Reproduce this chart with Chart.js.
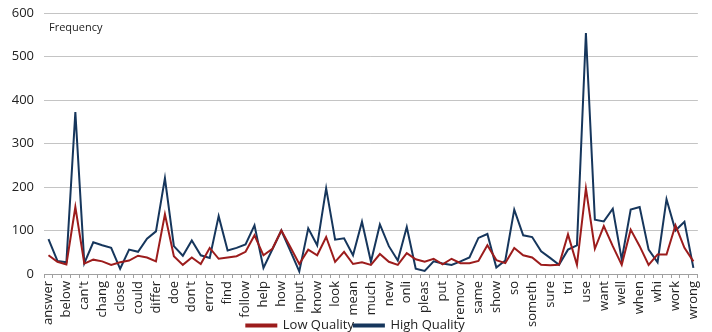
<!DOCTYPE html>
<html>
<head>
<meta charset="utf-8">
<script src="https://cdn.jsdelivr.net/npm/chart.js@4.4.1/dist/chart.umd.min.js"></script>
<style>
  html, body { margin: 0; padding: 0; background: #fff; }
  #wrap { width: 712px; height: 332px; position: relative; }
</style>
</head>
<body>
<div id="wrap"><canvas id="freqChart"></canvas></div>
<script>
// every other category carries a label, as on the original axis
const words = ['answer', 'below', "can't", 'chang', 'close', 'could', 'differ', 'doe', "don't", 'error',
  'find', 'follow', 'help', 'how', 'input', 'know', 'look', 'mean', 'much', 'new', 'onli', 'pleas',
  'put', 'remov', 'same', 'show', 'so', 'someth', 'sure', 'tri', 'use', 'want', 'well', 'when', 'whi',
  'work', 'wrong'];
const categories = [];
words.forEach(function(w, i) {
    categories.push(w);
    if (i < words.length - 1) categories.push('');
});

const lowQuality = [43, 28, 22, 154, 24, 33, 29, 21, 27, 31, 42, 38, 29, 137, 41, 21, 38, 23, 60, 35,
  38, 41, 51, 89, 43, 58, 100, 62, 23, 56, 43, 85, 28, 51, 23, 27, 21, 46, 28, 21,
  48, 34, 28, 35, 22, 35, 25, 25, 30, 66, 32, 25, 60, 43, 38, 21, 20, 21, 91, 21,
  197, 58, 110, 64, 21, 102, 64, 21, 45, 45, 112, 60, 29];
const highQuality = [80, 30, 27, 372, 25, 73, 66, 60, 12, 56, 51, 81, 98, 220, 64, 42, 77, 43, 37, 133,
  54, 60, 68, 112, 14, 57, 100, 53, 6, 105, 66, 197, 79, 82, 43, 120, 28, 114, 64, 31,
  108, 12, 7, 29, 24, 21, 29, 38, 83, 92, 15, 31, 148, 89, 85, 52, 37, 21, 56, 66,
  554, 125, 121, 150, 33, 148, 154, 56, 27, 172, 100, 120, 14];
const yTicks = [0, 100, 200, 300, 400, 500, 600];

const FONT = '"Open Sans", "Liberation Sans", sans-serif';

const frequencyLabel = {
    id: 'frequencyLabel',
    afterDraw(chart) {
        const ctx = chart.ctx;
        ctx.save();
        ctx.font = '11px ' + FONT;
        ctx.fillStyle = '#222';
        ctx.textBaseline = 'middle';
        ctx.fillText('Frequency', chart.chartArea.left + 5, 28);
        ctx.restore();
    }
};

new Chart(document.getElementById('freqChart'), {
    type: 'line',
    data: {
        labels: categories,
        datasets: [{
            label: 'Low Quality',
            data: lowQuality,
            borderColor: '#9c1c1c',
            backgroundColor: '#9c1c1c',
            borderWidth: 2,
            pointRadius: 0,
            tension: 0
        }, {
            label: 'High Quality',
            data: highQuality,
            borderColor: '#16365c',
            backgroundColor: '#16365c',
            borderWidth: 2,
            pointRadius: 0,
            tension: 0
        }]
    },
    options: {
        responsive: true,
        maintainAspectRatio: false,
        animation: false,
        // legend sits partly in the margin so it lines up with the long tick labels
        layout: { padding: { top: 13, right: 1, left: 0, bottom: -10 } },
        plugins: {
            tooltip: { enabled: false },
            legend: {
                position: 'bottom',
                labels: {
                    boxWidth: 30,
                    boxHeight: 2,
                    padding: 0,
                    color: '#222',
                    font: { family: FONT, size: 13 }
                }
            }
        },
        scales: {
            x: {
                offset: true,
                grid: { offset: true, drawOnChartArea: false, tickLength: 4, color: '#a0a0a0' },
                border: { color: '#a0a0a0' },
                ticks: {
                    autoSkip: false,
                    minRotation: 90,
                    maxRotation: 90,
                    padding: 3,
                    color: '#222',
                    font: { family: FONT, size: 13 }
                },
                afterFit(scale) {
                    scale.height = 45;
                    // long labels run down past the axis box, next to the legend
                    scale._computeLabelArea = () => undefined;
                }
            },
            y: {
                min: 0,
                max: 600,
                afterBuildTicks(scale) { scale.ticks = yTicks.map(v => ({ value: v })); },
                grid: { drawTicks: false, color: '#c4c4c4' },
                border: { display: false },
                ticks: {
                    padding: 10,
                    color: '#222',
                    font: { family: FONT, size: 13 }
                },
                afterFit(scale) {
                    scale.width = 44;
                    scale.paddingTop = 0;
                }
            }
        }
    },
    plugins: [frequencyLabel]
});
</script>
</body>
</html>
